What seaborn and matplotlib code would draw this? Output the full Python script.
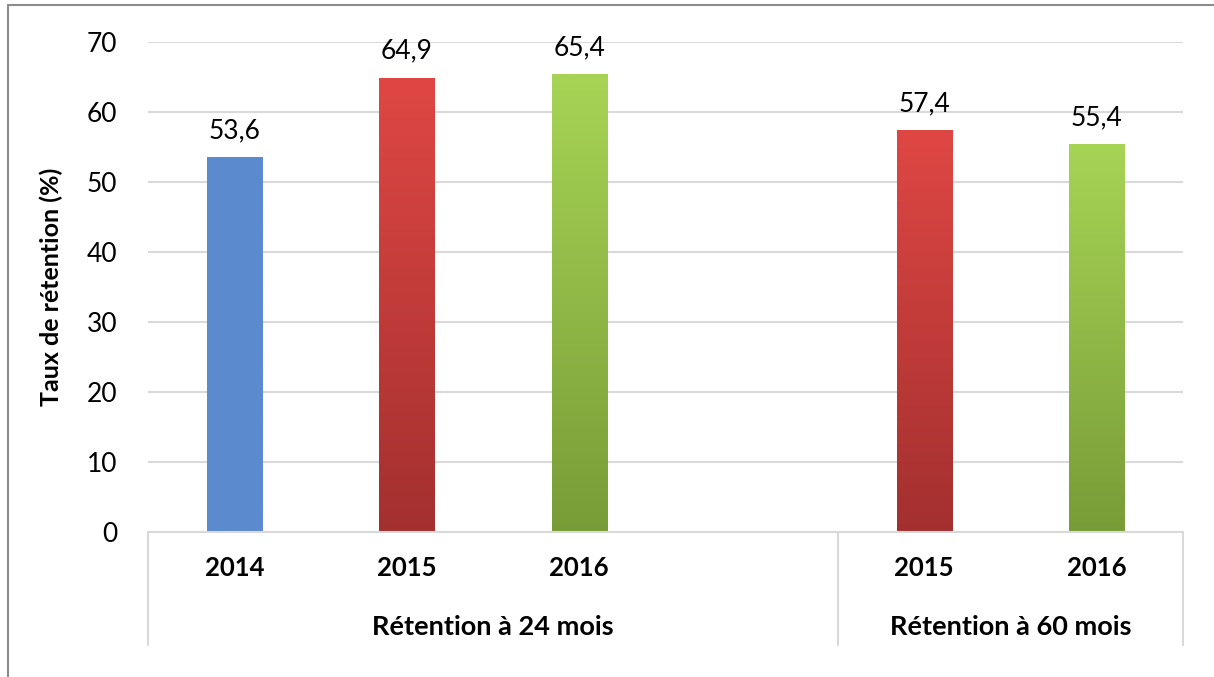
import numpy as np
import pandas as pd
import matplotlib
matplotlib.use("Agg")
import matplotlib.pyplot as plt
import matplotlib.colors as mcolors
from matplotlib.lines import Line2D
import seaborn as sns

# ---- data ----
groups = ["Rétention à 24 mois", "Rétention à 24 mois", "Rétention à 24 mois",
          "Rétention à 60 mois", "Rétention à 60 mois"]
years = ["2014", "2015", "2016", "2015", "2016"]
values = [53.6, 64.9, 65.4, 57.4, 55.4]
group_names = ["Rétention à 24 mois", "Rétention à 60 mois"]
y_ticks = [0, 10, 20, 30, 40, 50, 60, 70]
y_label = "Taux de rétention (%)"

year_colors = {"2014": ("#5B8BCE", "#5B8BCE"),
               "2015": ("#DF4744", "#A3302F"),
               "2016": ("#A7D455", "#789C37")}

sns.set_theme(style="white")
plt.rcParams['font.family'] = ['Lato', 'DejaVu Sans']

df = pd.DataFrame({"group": groups, "year": years, "value": values})
df["key"] = df["group"].str[-7:-5] + "|" + df["year"]
order = ["24|2014", "24|2015", "24|2016", "gap", "60|2015", "60|2016"]

fig = plt.figure(figsize=(12.14, 6.77), dpi=100)
ax = fig.add_axes([148/1214, 1 - 532/677, (1183-148)/1214, (532-42)/677])

sns.barplot(data=df, x="key", y="value", hue="year", order=order,
            palette={k: v[0] for k, v in year_colors.items()},
            dodge=False, width=0.32, legend=False, ax=ax, saturation=1)

ax.set_ylim(0, 70)
ax.set_xlim(-0.5, len(order) - 0.5)
ax.set_yticks(y_ticks)
ax.set_yticklabels([str(t) for t in y_ticks], fontsize=19, color="#000000")
ax.tick_params(axis="y", length=0, pad=22)
ax.grid(axis="y", color="#D9D9D9", linewidth=1.5)
ax.set_axisbelow(True)
for s in ["top", "right", "left"]:
    ax.spines[s].set_visible(False)
ax.spines["bottom"].set_color("#D9D9D9")
ax.spines["bottom"].set_linewidth(1.5)

# gradients on bars
for cont in ax.containers:
    for patch in cont:
        h = patch.get_height()
        if not np.isfinite(h) or h == 0:
            continue
        x0 = patch.get_x(); w = patch.get_width()
        fc = mcolors.to_hex(patch.get_facecolor())
        match = [v for k, v in year_colors.items() if v[0].lower() == fc.lower()]
        top, bot = match[0] if match else (fc, fc)
        cmap = mcolors.LinearSegmentedColormap.from_list("g", [bot, top])
        grad = np.linspace(0, 1, 256).reshape(-1, 1)
        im = ax.imshow(grad, cmap=cmap, origin="lower", aspect="auto",
                       extent=[x0, x0 + w, 0, h], zorder=patch.get_zorder() + 0.1)
        im.set_clip_path(patch)
        patch.set_edgecolor("#BBBBBB")
        patch.set_linewidth(0.6)

# value labels
for cont in ax.containers:
    labels = []
    for patch in cont:
        h = patch.get_height()
        labels.append("" if not np.isfinite(h) or h == 0 else f"{h:.1f}".replace(".", ","))
    ax.bar_label(cont, labels=labels, padding=10, fontsize=19, color="#000000")

# x tick labels (years)
ax.set_xticks(range(len(order)))
ax.set_xticklabels([k.split("|")[1] if "|" in k else "" for k in order],
                   fontsize=18.5, fontweight="bold", color="#000000")
ax.tick_params(axis="x", length=0, pad=17)
ax.set_xlabel("")
ax.set_ylabel(y_label, fontsize=18, fontweight="bold", labelpad=17, color="#000000")

# group labels & separators
trans = ax.get_xaxis_transform()
g_center = {"Rétention à 24 mois": 1.5, "Rétention à 60 mois": 4.5}
for g in group_names:
    ax.text(g_center[g], -(627 - 532) / (532 - 42), g, transform=trans,
            ha="center", va="center", fontsize=19.5, fontweight="bold", color="#000000")
y_bottom = -(645 - 532) / (532 - 42)
for xs in [-0.5, 3.5, 5.5]:
    ax.add_line(Line2D([xs, xs], [0, y_bottom], transform=trans, color="#D9D9D9",
                       linewidth=1.5, clip_on=False))

# chart border (left and top visible)
fig.add_artist(Line2D([8/1214, 8/1214], [0, 1 - 5/677], transform=fig.transFigure,
                      color="#8C8C8C", linewidth=1.5))
fig.add_artist(Line2D([8/1214, 1], [1 - 5/677, 1 - 5/677], transform=fig.transFigure,
                      color="#8C8C8C", linewidth=1.5))

fig.savefig("out.png", dpi=100)
